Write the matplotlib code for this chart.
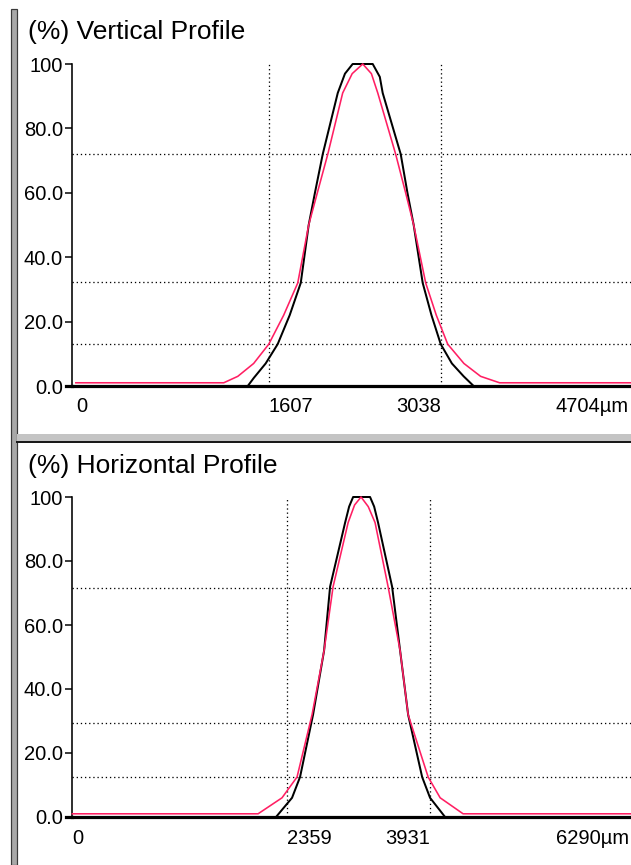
import matplotlib
matplotlib.use("Agg")
import matplotlib.pyplot as plt
from matplotlib.patches import Rectangle
from matplotlib.lines import Line2D

plt.rcParams['font.family'] = ['Liberation Sans', 'DejaVu Sans']

W, H = 631, 865
DPI = 100

# ---------------- data ----------------
# Vertical profile (top)
v_black_x = [0, 1431, 1481, 1580, 1680, 1780, 1872, 1938, 1990, 2055, 2180, 2240, 2304, 2471, 2530, 2554, 2704, 2760, 2812, 2887, 2960, 3037, 3130, 3228, 3311, 4704]
v_black_y = [0, 0, 2.5, 7, 13, 22, 32, 50, 60, 72, 91, 97, 100, 100, 96, 91, 72, 60, 50, 32, 22, 13, 7, 3, 0, 0]
v_pink_x = [0, 1231, 1348, 1480, 1606, 1730, 1847, 1938, 2010, 2097, 2221, 2300, 2388, 2460, 2513, 2662, 2745, 2812, 2912, 3000, 3095, 3230, 3369, 3527, 4704]
v_pink_y = [1, 1, 3, 7, 13, 22, 32, 50, 60, 72, 91, 97, 100, 97, 91, 72, 60, 50, 32, 22, 13, 7, 3, 1, 1]
v_hlines = [72.0, 32.3, 13.0]
v_vlines = [1607, 3038]
v_xmax = 4704
v_xlabels = ["0", "1607", "3038"]

# Horizontal profile (bottom)
h_black_x = [0, 2237, 2413, 2501, 2644, 2765, 2831, 2996, 3040, 3084, 3270, 3315, 3358, 3512, 3600, 3688, 3842, 3929, 4094, 6290]
h_black_y = [0, 0, 6, 12.5, 32, 52, 72, 92, 97, 100, 100, 97, 92, 72, 52, 32, 12.5, 6, 0, 0]
h_pink_x = [0, 2040, 2303, 2468, 2633, 2765, 2864, 3029, 3100, 3171, 3250, 3325, 3468, 3600, 3688, 3908, 4040, 4292, 6290]
h_pink_y = [1, 1, 6, 12.5, 32, 52, 72, 92, 97.5, 100, 97, 92, 72, 52, 32, 12.5, 6, 1, 1]
h_hlines = [71.5, 29.5, 12.5]
h_vlines = [2359, 3931]
h_xmax = 6290
h_xlabels = ["0", "2359", "3931"]

y_ticks = [0, 20, 40, 60, 80, 100]
y_ticklabels = ["0.0", "20.0", "40.0", "60.0", "80.0", "100"]

PINK = '#ff1f63'

fig = plt.figure(figsize=(W / DPI, H / DPI), dpi=DPI)
fig.patch.set_facecolor('white')

def px(v):
    return v * 72.0 / DPI  # pixels -> points

def add_panel(top, bottom, right, xmin, xmax, bx, by, pxs, pys, hls, vls, xlabels, unit_label, title, title_y):
    ax = fig.add_axes([72 / W, 1 - bottom / H, (right - 72) / W, (bottom - top) / H])
    ax.set_facecolor('white')
    ax.set_xlim(xmin, xmax)
    ax.set_ylim(0, 100)
    for s in ['top', 'right']:
        ax.spines[s].set_visible(False)
    ax.spines['left'].set_linewidth(px(1.6))
    ax.spines['bottom'].set_linewidth(px(3.2))
    ax.spines['bottom'].set_zorder(1)
    ax.set_xticks([])
    ax.set_yticks(y_ticks)
    ax.set_yticklabels(y_ticklabels)
    ax.tick_params(axis='y', direction='out', length=px(7), width=px(1.5), pad=px(2), labelsize=14.5)
    for h in hls:
        ax.axhline(h, color='black', lw=px(1.3), ls=(0, (1, 2.2)), zorder=2)
    for v in vls:
        ax.axvline(v, color='black', lw=px(1.3), ls=(0, (1, 2.2)), zorder=2)
    ax.plot(bx, by, color='black', lw=px(2.0), zorder=3, clip_on=False)
    ax.plot(pxs, pys, color=PINK, lw=px(1.6), zorder=4, clip_on=False)
    # x labels
    positions = [0, vls[0], vls[1]]
    has = ['left', 'left', 'right']
    for p, lab, ha in zip(positions, xlabels, has):
        ax.annotate(lab, xy=(p, 0), xycoords=('data', 'axes fraction'), xytext=(0, -21),
                    textcoords='offset pixels', ha=ha, va='center', fontsize=14.5)
    fig.text(629 / W, 1 - (bottom + 21) / H, unit_label, ha='right', va='center', fontsize=14.5)
    fig.text(28 / W, 1 - title_y / H, title, ha='left', va='center', fontsize=19)
    # thick stub of x axis to the left
    fig.add_artist(Line2D([66 / W, 72 / W], [1 - bottom / H] * 2, color='black', lw=px(3.2)))
    return ax

add_panel(64, 386, 641, -32, v_xmax, v_black_x, v_black_y, v_pink_x, v_pink_y,
          v_hlines, v_vlines, v_xlabels, "4704µm", "(%) Vertical Profile", 32)
add_panel(497, 817, 645, -4, h_xmax, h_black_x, h_black_y, h_pink_x, h_pink_y,
          h_hlines, h_vlines, h_xlabels, "6290µm", "(%) Horizontal Profile", 466)

# left gray frame bar
fig.add_artist(Rectangle((11 / W, 0), 6 / W, 1 - 9 / H, transform=fig.transFigure,
                         facecolor='#a8a8a8', edgecolor='#3a3a3a', lw=px(1.2)))
# horizontal separator between panels
fig.add_artist(Rectangle((17 / W, 1 - 441 / H), 1, 7 / H, transform=fig.transFigure,
                         facecolor='#c4c4c4', edgecolor='none'))
fig.add_artist(Line2D([17 / W, 1], [1 - 442 / H] * 2, color='#1a1a1a', lw=px(2)))

fig.savefig('out.png', dpi=DPI, facecolor='white')
